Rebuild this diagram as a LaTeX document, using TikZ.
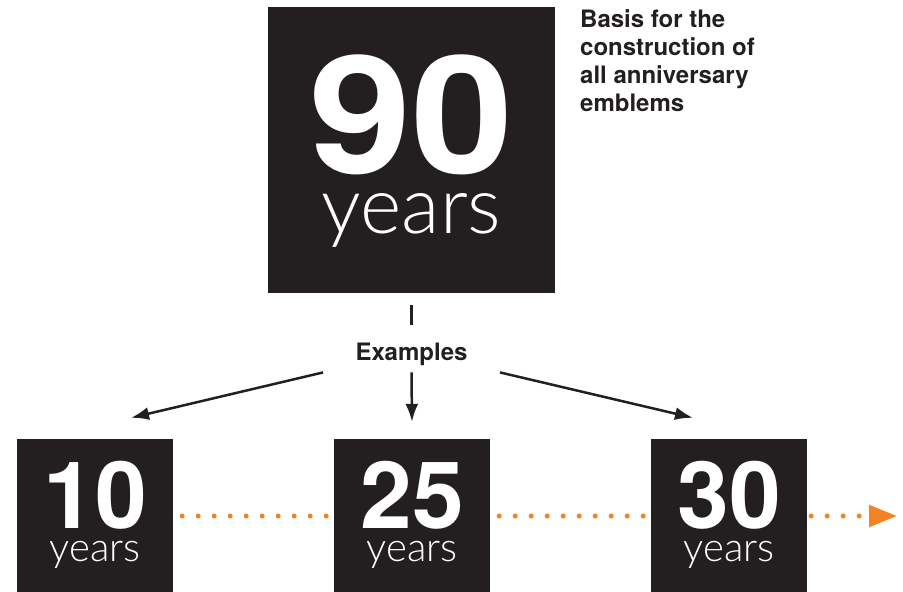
\documentclass[tikz,border=0pt]{standalone}
\usepackage{fontspec}
\usepackage{xcolor}
\setmainfont{TeX Gyre Heros}
\newfontfamily\lightfont{Lato Light}
\usetikzlibrary{arrows.meta}

\definecolor{boxgray}{HTML}{231F20}
\definecolor{dotorange}{HTML}{F58220}

\begin{document}
\begin{tikzpicture}[x=1pt, y=-1pt,
    emblem/.style={fill=boxgray, draw=none, inner sep=0pt},
    numtext/.style={text=white, inner sep=0pt, anchor=base, text depth=0pt},
    yrstext/.style={text=white, inner sep=0pt, anchor=base},
    arr/.style={draw=boxgray, line width=2.5pt, -{Latex[length=18pt,width=13pt]}},
    dots/.style={draw=dotorange, line width=5pt, line cap=round, dash pattern=on 0pt off 16pt}]
  \useasboundingbox (0,0) rectangle (903,592);

  % base emblem
  \node[emblem, minimum width=287pt, minimum height=286pt] (big) at (411.5,150) {};
  \node[numtext, font=\bfseries\fontsize{164}{164}\selectfont] (bignum) at (411.5,173) {\scalebox{1.12}[1]{90}};
  \node[yrstext, text height=38pt, font=\lightfont\fontsize{79}{79}\selectfont] (bigyrs) at (411.5,233) {years};

  \node[anchor=north west, inner sep=0pt, align=left, text=boxgray,
        font=\bfseries\fontsize{24}{28}\selectfont] (basis) at (580,9)
    {Basis for the\\construction of\\all anniversary\\emblems};

  \node[anchor=base, inner sep=0pt, text=boxgray, font=\bfseries\fontsize{24}{24}\selectfont] (ex) at (411.5,360) {Examples};

  % examples
  \node[emblem, minimum width=156pt, minimum height=154pt] (b10) at (95,516) {};
  \node[emblem, minimum width=156pt, minimum height=154pt] (b25) at (412,516) {};
  \node[emblem, minimum width=156pt, minimum height=154pt] (b30) at (729,516) {};

  \node[numtext, font=\bfseries\fontsize{93}{93}\selectfont] (n10) at (95,528) {10};
  \node[numtext, font=\bfseries\fontsize{93}{93}\selectfont] (n25) at (412,528) {25};
  \node[numtext, font=\bfseries\fontsize{93}{93}\selectfont] (n30) at (729,528) {30};
  \node[yrstext, text height=19pt, font=\lightfont\fontsize{40}{40}\selectfont] (y10) at (95,561) {years};
  \node[yrstext, text height=19pt, font=\lightfont\fontsize{40}{40}\selectfont] (y25) at (412,561) {years};
  \node[yrstext, text height=19pt, font=\lightfont\fontsize{40}{40}\selectfont] (y30) at (729,561) {years};

  \coordinate (tipend) at (897,516);

  \draw[draw=boxgray, line width=2.5pt, shorten <=12pt, shorten >=17.7pt] (big.south) -- (ex.north);
  \draw[arr] ([xshift=-88.5pt,yshift=-7pt]ex.south) -- ([xshift=36pt,yshift=21pt]b10.north);
  \draw[arr] ([yshift=-7pt]ex.south) -- ([yshift=17pt]b25.north);
  \draw[arr] ([xshift=88.5pt,yshift=-7pt]ex.south) -- ([xshift=-36pt,yshift=21pt]b30.north);

  \draw[dots, shorten <=9pt, shorten >=7pt] (b10.east) -- (b25.west);
  \draw[dots, shorten <=9pt, shorten >=7pt] (b25.east) -- (b30.west);
  \draw[dots, shorten <=4pt, -{Triangle[length=28pt,width=21pt,fill=dotorange]}] (b30.east) -- (tipend);
\end{tikzpicture}
\end{document}
